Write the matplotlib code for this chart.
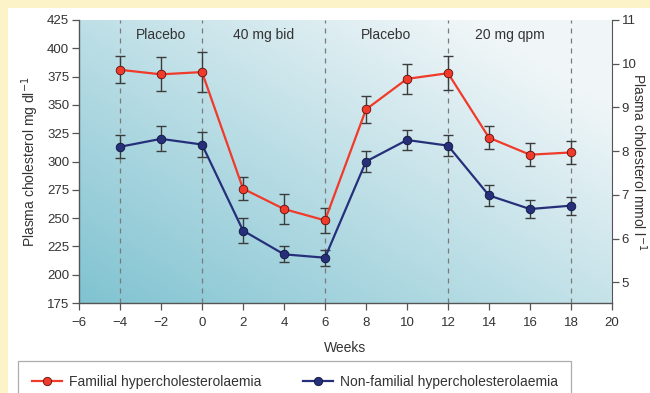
import numpy as np
import matplotlib.pyplot as plt
from matplotlib.lines import Line2D
from matplotlib.patches import Rectangle

plt.rcParams["font.family"] = ["Liberation Sans", "DejaVu Sans"]

weeks = [-4, -2, 0, 2, 4, 6, 8, 10, 12, 14, 16, 18]
familial = [381, 377, 379, 276, 258, 248, 346, 373, 378, 321, 306, 308]
familial_err = [12, 15, 18, 10, 13, 11, 12, 13, 15, 10, 10, 10]
nonfamilial = [313, 320, 315, 239, 218, 215, 300, 319, 314, 270, 258, 261]
nonfamilial_err = [10, 11, 11, 11, 7, 7, 9, 9, 9, 9, 8, 8]

phase_edges = [-4, 0, 6, 12, 18]
phase_labels = ["Placebo", "40 mg bid", "Placebo", "20 mg qpm"]
MG_PER_MMOL = 38.67

RED = "#f03a2a"
BLUE = "#26307a"
GREY = "#555555"
TXT = "#333333"

fig = plt.figure(figsize=(6.5, 3.93), dpi=100)
fig.patch.set_facecolor("#fdf3c8")
fig.patches.append(Rectangle((8 / 650, 0), 1, 1 - 8 / 393, transform=fig.transFigure,
                             facecolor="white", edgecolor="none", zorder=-10))

ax = fig.add_axes([79 / 650, 90 / 393, 533 / 650, 283 / 393])
ax.set_xlim(-6, 20)
ax.set_ylim(175, 425)

# diagonal gradient background (dark teal lower-left -> near white upper-right)
u, v = np.meshgrid(np.linspace(0, 1, 300), np.linspace(0, 1, 200))
t = np.clip(0.62 * u + 0.55 * v, 0, 1)
c0 = np.array([0x80, 0xc3, 0xd1]) / 255
c1 = np.array([0xf0, 0xf6, 0xf8]) / 255
img = c0[None, None, :] * (1 - t[..., None]) + c1[None, None, :] * t[..., None]
ax.imshow(img, extent=(-6, 20, 175, 425), origin="lower", aspect="auto", zorder=0)

for xe in phase_edges:
    ax.axvline(xe, color="#7a7a7a", lw=0.9, ls=(0, (4, 4)), zorder=1)
for i, lab in enumerate(phase_labels):
    xc = (phase_edges[i] + phase_edges[i + 1]) / 2
    ax.text(xc, 412, lab, ha="center", va="center", fontsize=10, color=TXT)

for y, err, col in [(familial, familial_err, RED), (nonfamilial, nonfamilial_err, BLUE)]:
    ax.errorbar(weeks, y, yerr=err, fmt="none", ecolor="#3c3c3c", elinewidth=1.0,
                capsize=3.5, capthick=1.0, zorder=2)
    ax.plot(weeks, y, color=col, lw=1.6, marker="o", ms=6.2, mfc=col,
            mec="#5a1010" if col == RED else "#10153a", mew=0.6, zorder=3)

ax.set_xticks(range(-6, 21, 2))
ax.set_xticklabels([str(x).replace("-", "\u2212") for x in range(-6, 21, 2)])
ax.set_yticks(range(175, 426, 25))
for s in ["top", "right"]:
    ax.spines[s].set_visible(False)
for s in ["left", "bottom"]:
    ax.spines[s].set_color(GREY)
    ax.spines[s].set_linewidth(1.0)
ax.tick_params(direction="out", length=5, width=0.9, color=GREY, labelsize=9.5,
               labelcolor=TXT)
ax.tick_params(axis="x", pad=5)
ax.tick_params(axis="y", pad=2)
ax.set_xlabel("Weeks", fontsize=10, color=TXT, labelpad=9)
ax.set_ylabel("Plasma cholesterol mg dl$^{-1}$", fontsize=10, color=TXT, labelpad=4)

ax2 = ax.twinx()
ax2.set_ylim(175 / MG_PER_MMOL, 425 / MG_PER_MMOL)
ax2.set_yticks(range(5, 12))
for s in ["top", "left", "bottom"]:
    ax2.spines[s].set_visible(False)
ax2.spines["right"].set_color(GREY)
ax2.spines["right"].set_bounds(175 / MG_PER_MMOL, 11)
ax2.tick_params(direction="out", length=5, width=0.9, color=GREY, labelsize=9.5,
                labelcolor=TXT, pad=2)
ax2.set_ylabel("Plasma cholesterol mmol l$^{-1}$", fontsize=10, color=TXT,
               rotation=-90, labelpad=9)

handles = [
    Line2D([0], [0], color=RED, lw=1.6, marker="o", ms=6, mfc=RED, mec="#5a1010", mew=0.6),
    Line2D([0], [0], color=BLUE, lw=1.6, marker="o", ms=6, mfc=BLUE, mec="#10153a", mew=0.6),
]
leg = fig.legend(handles, ["Familial hypercholesterolaemia", "Non-familial hypercholesterolaemia"],
                 loc="upper left", bbox_to_anchor=(18 / 650, 1 - 361 / 393), ncol=2,
                 fontsize=10, frameon=True, fancybox=False, edgecolor="#999999",
                 handlelength=2.2, columnspacing=3.0, borderpad=1.0, handletextpad=0.45,
                 borderaxespad=0)
leg.get_frame().set_linewidth(0.9)
for txt in leg.get_texts():
    txt.set_color(TXT)

fig.savefig("out.png", dpi=100)
